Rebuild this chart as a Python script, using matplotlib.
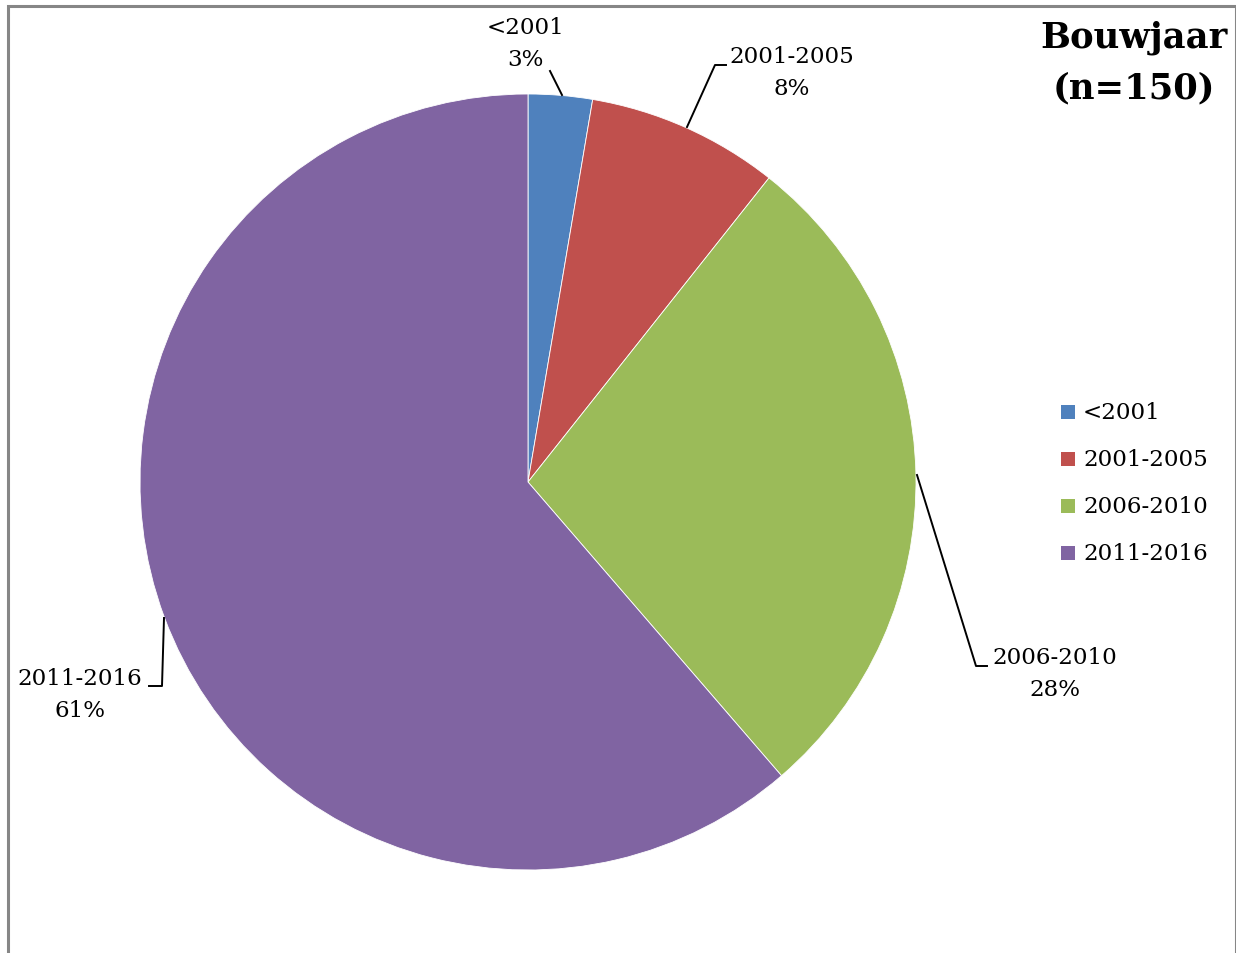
import matplotlib.pyplot as plt
from matplotlib.patches import Rectangle

# Bouwjaar counts, n=150
categories = ['<2001', '2001-2005', '2006-2010', '2011-2016']
counts = [4, 12, 42, 92]
colors = ['#4F81BD', '#C0504D', '#9BBB59', '#8064A2']

W, H = 1236, 954
FONT = 'DejaVu Serif'
FS = 16.6

fig = plt.figure(figsize=(W / 100, H / 100), dpi=100)
ax = fig.add_axes([0, 0, 1, 1])

# pixel helper: y measured from top
def py(y):
    return H - y

wedges, _ = ax.pie(counts, colors=colors, startangle=90, counterclock=False,
                   center=(528, py(483)), radius=388, frame=True,
                   wedgeprops=dict(edgecolor='white', linewidth=0.6))
ax.set_xlim(0, W)
ax.set_ylim(0, H)
ax.set_aspect('equal')
ax.axis('off')

# outer border of the chart area
ax.add_patch(Rectangle((7.5, py(1000)), W - 8, 1000 - 7, fill=False,
                       edgecolor='#868686', linewidth=2.2, clip_on=False))

total = sum(counts)
pcts = [round(100 * c / total) for c in counts]

# data labels: (text centre x, first line y, leader polyline)
label_pos = [
    (525, 28, [(562, 96), (550, 72)]),
    (792, 57, [(687, 128), (715, 66), (726, 66)]),
    (1055, 658, [(917, 476), (976, 667), (987, 667)]),
    (80, 679, [(164, 619), (162, 687), (149, 687)]),
]
for cat, p, (tx, ty, line) in zip(categories, pcts, label_pos):
    ax.text(tx, py(ty), cat, ha='center', va='center', fontsize=FS, family=FONT)
    ax.text(tx, py(ty + 32), f'{p}%', ha='center', va='center', fontsize=FS, family=FONT)
    xs = [q[0] for q in line]
    ys = [py(q[1]) for q in line]
    ax.plot(xs, ys, color='black', linewidth=1.4)

# title
ax.text(1134, py(38), 'Bouwjaar', ha='center', va='center', fontsize=25.5,
        fontweight='bold', family=FONT)
ax.text(1134, py(88), '(n=150)', ha='center', va='center', fontsize=25.5,
        fontweight='bold', family=FONT)

# legend
for i, (cat, col) in enumerate(zip(categories, colors)):
    y = 413 + 47 * i
    ax.add_patch(Rectangle((1061, py(y + 7)), 14, 14, facecolor=col, edgecolor='none'))
    ax.text(1083, py(y), cat, ha='left', va='center', fontsize=FS, family=FONT)

fig.savefig('out.png', dpi=100)
